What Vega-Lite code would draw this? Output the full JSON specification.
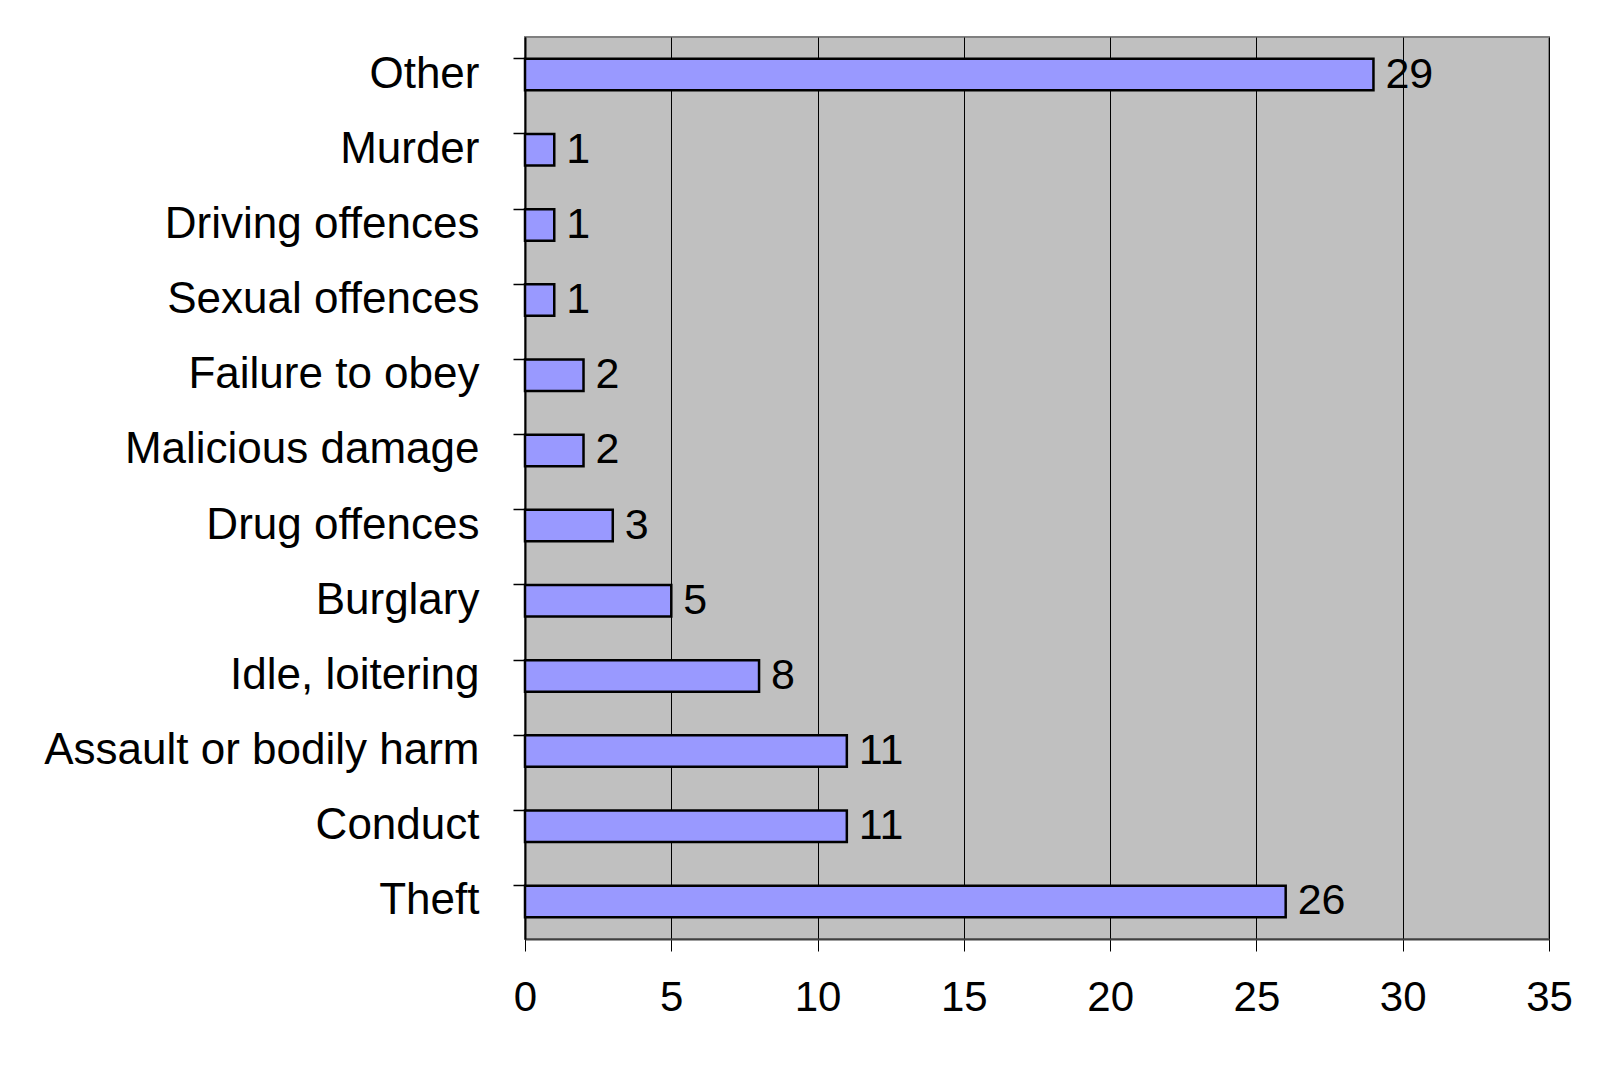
{
  "$schema": "https://vega.github.io/schema/vega-lite/v6.json",
  "autosize": {"type": "none"},
  "padding": {"left": 525, "top": 37, "right": 59, "bottom": 133},
  "width": 1024,
  "height": 902,
  "background": "white",
  "config": {
    "font": "Liberation Sans",
    "view": {"fill": "#C0C0C0", "stroke": "#808080", "strokeWidth": 2}
  },
  "data": {
    "values": [
      {"offence": "Other", "count": 29},
      {"offence": "Murder", "count": 1},
      {"offence": "Driving offences", "count": 1},
      {"offence": "Sexual offences", "count": 1},
      {"offence": "Failure to obey", "count": 2},
      {"offence": "Malicious damage", "count": 2},
      {"offence": "Drug offences", "count": 3},
      {"offence": "Burglary", "count": 5},
      {"offence": "Idle, loitering", "count": 8},
      {"offence": "Assault or bodily harm", "count": 11},
      {"offence": "Conduct", "count": 11},
      {"offence": "Theft", "count": 26}
    ]
  },
  "encoding": {
    "y": {
      "field": "offence",
      "type": "nominal",
      "sort": null,
      "title": null,
      "scale": {"paddingInner": 0.58, "paddingOuter": 0.29},
      "axis": {
        "bandPosition": 0,
        "domainColor": "#000000",
        "domainWidth": 2,
        "tickColor": "#000000",
        "tickWidth": 1.5,
        "tickSize": 12,
        "labelFontSize": 44,
        "labelColor": "#000000",
        "labelPadding": 34,
        "labelLimit": 600,
        "grid": false
      }
    },
    "x": {
      "field": "count",
      "type": "quantitative",
      "title": null,
      "scale": {"domain": [0, 35], "nice": false},
      "axis": {
        "values": [0, 5, 10, 15, 20, 25, 30, 35],
        "domainColor": "#404040",
        "domainWidth": 2,
        "tickColor": "#000000",
        "tickWidth": 1,
        "tickSize": 12,
        "labelFontSize": 42,
        "labelColor": "#000000",
        "labelPadding": 26,
        "labelFlush": false,
        "labelOverlap": false,
        "grid": true,
        "gridColor": "#000000",
        "gridWidth": 1,
        "gridOpacity": 1
      }
    }
  },
  "layer": [
    {
      "mark": {"type": "bar", "fill": "#9999FF", "stroke": "#000000", "strokeWidth": 2.5}
    },
    {
      "mark": {"type": "text", "align": "left", "baseline": "middle", "dx": 12, "fontSize": 43, "color": "#000000"},
      "encoding": {"text": {"field": "count", "type": "quantitative"}}
    }
  ]
}
